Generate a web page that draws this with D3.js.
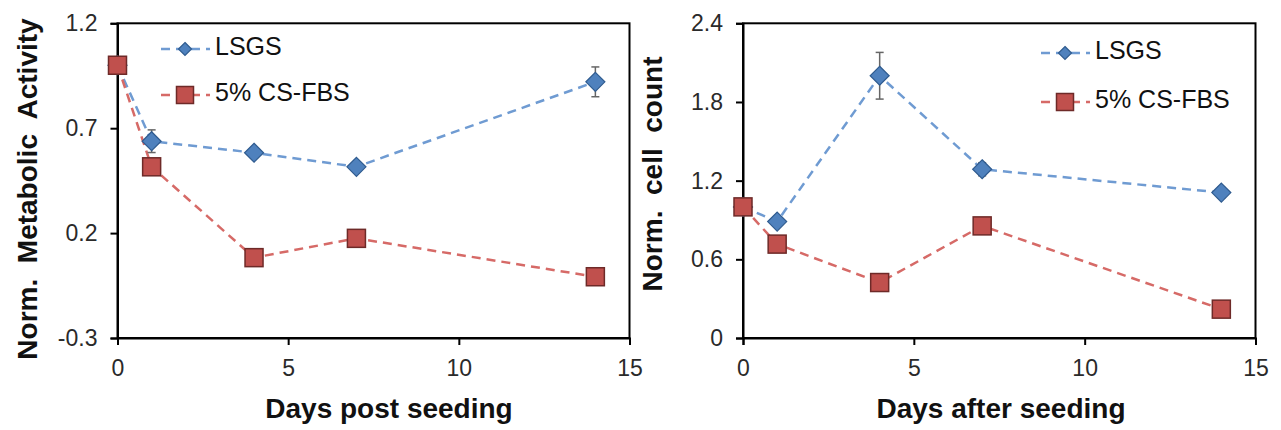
<!DOCTYPE html>
<html>
<head>
<meta charset="utf-8">
<script src="https://cdn.jsdelivr.net/npm/d3@7"></script>
<style>
  body { margin: 0; background: #fff; }
  svg { display: block; font-family: "Liberation Sans", Arial, sans-serif; }
  .title { white-space: pre; }
</style>
</head>
<body>
<div id="vis"></div>
<script>
// shared x values (days)
var days = [0, 1, 4, 7, 14];
var seriesNames = ["LSGS", "5% CS-FBS"];

// left panel: metabolic activity
var metabLSGS = [1.0, 0.638, 0.583, 0.516, 0.921];
var metabLSGSErr = [0, 0.054, 0.02, 0.02, 0.071];
var metabFBS = [1.0, 0.516, 0.083, 0.175, -0.008];
var metabFBSErr = [0, 0, 0, 0, 0];
var metabTicks = [-0.3, 0.2, 0.7, 1.2];

// right panel: cell count
var cellLSGS = [1.0, 0.888, 2.0, 1.287, 1.109];
var cellLSGSErr = [0, 0.02, 0.178, 0.05, 0.04];
var cellFBS = [1.0, 0.716, 0.423, 0.855, 0.22];
var cellFBSErr = [0, 0, 0, 0, 0];
var cellTicks = [0, 0.6, 1.2, 1.8, 2.4];

var xTicks = [0, 5, 10, 15];

var svg = d3.select("#vis").append("svg")
  .attr("width", 1281)
  .attr("height", 430);

var blue = "#4f81bd", blueEdge = "#2f5b8f", blueLine = "#6f9bd2";
var red = "#c0504d", redEdge = "#6e2a28", redLine = "#d66a67";

function panel(opts) {
  var g = svg.append("g");
  var x = d3.scaleLinear().domain([0, 15]).range([opts.left, opts.right]);
  var y = d3.scaleLinear().domain(opts.yDomain).range([338, 23.3]);

  // box
  g.append("rect")
    .attr("x", opts.left).attr("y", 23.3)
    .attr("width", opts.right - opts.left).attr("height", 338 - 23.3)
    .attr("fill", "none").attr("stroke", "#000").attr("stroke-width", 2);

  var xa = g.append("g").attr("transform", "translate(0,338)")
    .call(d3.axisBottom(x).tickValues(xTicks).tickSize(7).tickPadding(15).tickFormat(d3.format("d")));
  var ya = g.append("g").attr("transform", "translate(" + opts.left + ",0)")
    .call(d3.axisLeft(y).tickValues(opts.yTicks).tickSize(7).tickPadding(13).tickFormat(function(d){ return String(d); }));
  [xa, ya].forEach(function(a) {
    a.select(".domain").attr("stroke", "#000").attr("stroke-width", 2);
    a.selectAll(".tick line").attr("stroke", "#000").attr("stroke-width", 2);
    a.selectAll("text").attr("font-size", 23).attr("fill", "#2a2a2a")
      .attr("font-family", "Liberation Sans, Arial, sans-serif");
  });

  // axis titles
  g.append("text").attr("class", "title")
    .attr("x", opts.xTitleX).attr("y", 418)
    .attr("text-anchor", "middle").attr("font-size", 28).attr("font-weight", "bold")
    .attr("fill", "#111").text(opts.xTitle);
  g.append("text").attr("class", "title")
    .attr("transform", "translate(" + opts.yTitleX + "," + opts.yTitleY + ") rotate(-90)")
    .attr("text-anchor", "middle").attr("font-size", 28).attr("font-weight", "bold")
    .attr("fill", "#111").text(opts.yTitle);

  var line = d3.line().x(function(d){ return x(d[0]); }).y(function(d){ return y(d[1]); });

  var series = [
    { vals: opts.lsgs, err: opts.lsgsErr, color: blue, edge: blueEdge, lc: blueLine, shape: "diamond" },
    { vals: opts.fbs, err: opts.fbsErr, color: red, edge: redEdge, lc: redLine, shape: "square" }
  ];

  // lines first
  series.forEach(function(s) {
    g.append("path")
      .datum(days.map(function(d, i){ return [d, s.vals[i]]; }))
      .attr("d", line).attr("fill", "none")
      .attr("stroke", s.lc).attr("stroke-width", 2.5)
      .attr("stroke-dasharray", "9,6");
  });

  // error bars
  series.forEach(function(s) {
    days.forEach(function(d, i) {
      if (!s.err[i]) return;
      var cx = x(d), y1 = y(s.vals[i] + s.err[i]), y2 = y(s.vals[i] - s.err[i]);
      g.append("line").attr("x1", cx).attr("x2", cx).attr("y1", y1).attr("y2", y2)
        .attr("stroke", "#666").attr("stroke-width", 1.5);
      [y1, y2].forEach(function(yy) {
        g.append("line").attr("x1", cx - 4).attr("x2", cx + 4).attr("y1", yy).attr("y2", yy)
          .attr("stroke", "#666").attr("stroke-width", 1.5);
      });
    });
  });

  // markers
  series.forEach(function(s) {
    days.forEach(function(d, i) {
      drawMarker(g, s, x(d), y(s.vals[i]), s.shape === "square" ? 9 : 9.5);
    });
  });

  // legend
  series.forEach(function(s, i) {
    var ly = opts.legY[i];
    g.append("line").attr("x1", opts.legX).attr("x2", opts.legX + 49)
      .attr("y1", ly).attr("y2", ly)
      .attr("stroke", s.lc).attr("stroke-width", 2.5).attr("stroke-dasharray", "9,6");
    drawMarker(g, s, opts.legX + 24, ly, s.shape === "square" ? 8.5 : 6.5);
    g.append("text").attr("x", opts.legX + 54).attr("y", ly - 3)
      .attr("dy", "0.36em").attr("font-size", 25).attr("fill", "#111")
      .text(seriesNames[i]);
  });
}

function drawMarker(g, s, cx, cy, r) {
  if (s.shape === "square") {
    g.append("rect").attr("x", cx - r).attr("y", cy - r)
      .attr("width", 2 * r).attr("height", 2 * r)
      .attr("fill", s.color).attr("stroke", s.edge).attr("stroke-width", 1.5);
  } else {
    g.append("path")
      .attr("d", "M" + cx + "," + (cy - r) + "L" + (cx + r) + "," + cy + "L" + cx + "," + (cy + r) + "L" + (cx - r) + "," + cy + "Z")
      .attr("fill", s.color).attr("stroke", s.edge).attr("stroke-width", 1.2);
  }
}

panel({
  left: 117.5, right: 629.5,
  yDomain: [-0.3, 1.2], yTicks: metabTicks,
  lsgs: metabLSGS, lsgsErr: metabLSGSErr, fbs: metabFBS, fbsErr: metabFBSErr,
  xTitle: "Days post seeding", xTitleX: 389,
  yTitle: "Norm.  Metabolic  Activity", yTitleX: 37, yTitleY: 189,
  legX: 161, legY: [49, 95]
});

panel({
  left: 743, right: 1255.5,
  yDomain: [0, 2.4], yTicks: cellTicks,
  lsgs: cellLSGS, lsgsErr: cellLSGSErr, fbs: cellFBS, fbsErr: cellFBSErr,
  xTitle: "Days after seeding", xTitleX: 1001,
  yTitle: "Norm.  cell  count", yTitleX: 662, yTitleY: 174,
  legX: 1041, legY: [53, 102]
});
</script>
</body>
</html>
